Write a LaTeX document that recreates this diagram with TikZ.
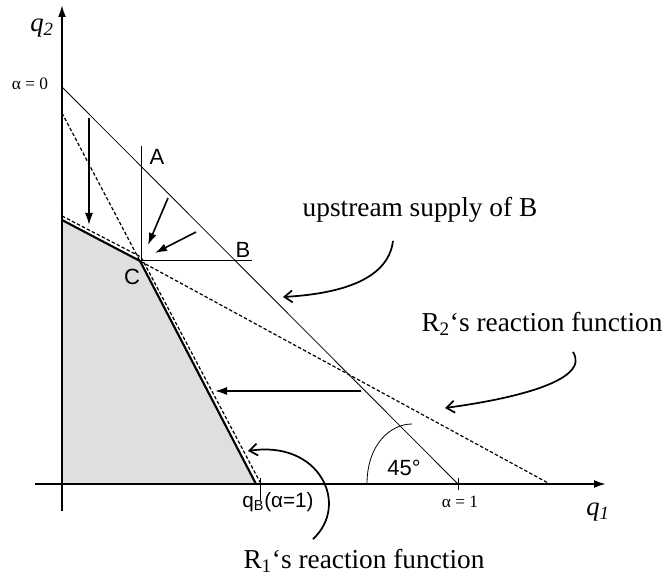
\documentclass[tikz,border=0pt]{standalone}
\usepackage{fontspec}
\setmainfont{Liberation Serif}
\newfontfamily\arialfont{Liberation Sans}
\usetikzlibrary{arrows.meta, positioning, calc}

\begin{document}
\begin{tikzpicture}[
    x=0.75pt, y=-0.75pt,
    axis/.style={line width=1.5pt, -{Latex[length=9pt, width=6pt]}},
    thinline/.style={line width=0.6pt},
    reaction/.style={line width=1.6pt, line join=round},
    dashline/.style={line width=0.9pt, dash pattern=on 2.6pt off 1.6pt},
    move/.style={line width=1.2pt, -{Latex[length=9pt, width=6pt]}},
    pointer/.style={line width=1.3pt, -{Straight Barb[length=6pt, width=9pt]}},
    caption/.style={font=\fontsize{20.5}{23}\selectfont, inner sep=0pt},
    axlabel/.style={font=\fontsize{20}{22}\selectfont\itshape, inner sep=0pt},
    tick/.style={font=\fontsize{13}{15}\selectfont, inner sep=0pt},
    point/.style={font=\arialfont\fontsize{16.5}{18}\selectfont, inner sep=0pt}
]
\useasboundingbox (0,0) rectangle (669,577);

\coordinate (O) at (62,484);
\coordinate (a0) at (62,87);
\coordinate (a1) at (458,484);
\coordinate (r1top) at (62,220);
\coordinate (C) at (140,261);
\coordinate (qB) at (256,484);
\coordinate (r2top) at (62,113);
\coordinate (r2end) at (550,484);

\fill[gray!25] (r1top) -- (C) -- (qB) -- (O) -- cycle;

\draw[axis] (35,484) -- (606,484);
\draw[axis] (62,511) -- (62,5);

\draw[thinline] (a0) -- (a1);
\draw[thinline] (141,146) -- (141,260) -- (252,260);
\draw[thinline] (260,478) -- (260,500);
\draw[thinline] (458,478) -- (458,490);
\draw[thinline] (367,484) .. controls (367,445) and (390,424) .. (412,424);

\draw[dashline] (r2top) -- (C) -- (r2end);
\draw[dashline] (62,216) -- (141,257) -- (261,484);
\draw[reaction] (r1top) -- (C) -- (qB);

\draw[move] (89,118) -- (89,225);
\draw[move] (168,198) -- (148,245);
\draw[move] (196,232) -- (155,253);
\draw[move] (361,391) -- (215,391);

\node[axlabel] (q2) at (42,28) {q\textsubscript{2}};
\node[axlabel] (q1) at (598,512) {q\textsubscript{1}};
\node[tick] (alpha0) at (30,84) {α = 0};
\node[tick] (alpha1) at (460,502) {α = 1};
\node[point] (A) at (157,157) {A};
\node[point] (B) at (243,250) {B};
\node[point] (Clab) at (132,277) {C};
\node[point] (angle) at (404,468) {45°};
\node[point, font=\arialfont\fontsize{15.5}{17}\selectfont] (qBlab) at (278,502) {q\textsubscript{B}(α=1)};

\node[caption] (upstream) at (420,210) {upstream supply of B};
\node[caption] (rtwo) at (542,324) {R\textsubscript{2}‘s reaction function};
\node[caption] (rone) at (364,561) {R\textsubscript{1}‘s reaction function};

\coordinate (upstreamend) at (283,297);
\coordinate (rtwoend) at (445,408);
\coordinate (roneend) at (248,451);

\draw[pointer] ($(upstream.south)+(-27,18)$) .. controls (388,282) and (335,294) .. (upstreamend);
\draw[pointer] ($(rtwo.south)+(31,16)$) .. controls (592,382) and (505,400) .. (rtwoend);
\draw[pointer] ($(rone.north)+(-51,-10)$) .. controls (350,505) and (320,440) .. (roneend);
\end{tikzpicture}
\end{document}
